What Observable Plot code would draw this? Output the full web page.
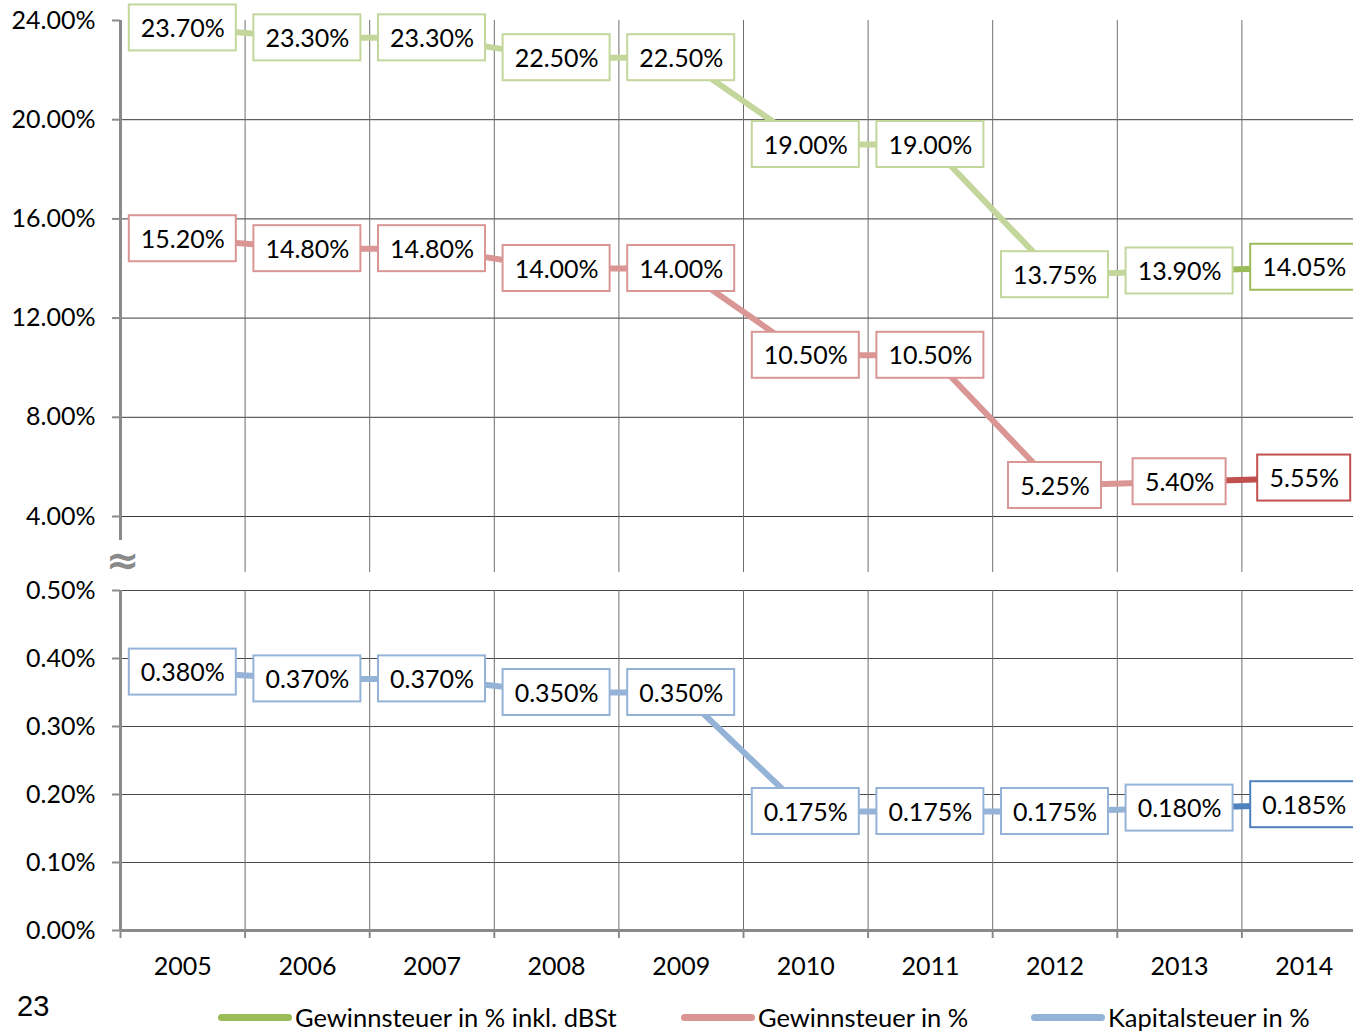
<!DOCTYPE html>
<html>
<head>
<meta charset="utf-8">
<script src="https://cdn.jsdelivr.net/npm/d3@7"></script>
<script src="https://cdn.jsdelivr.net/npm/@observablehq/plot@0.6"></script>
<style>
  html, body { margin: 0; padding: 0; background: #fff; overflow: hidden; }
  #wrap { position: relative; width: 1353px; height: 1032px; overflow: hidden; font-family: Lato, sans-serif; }
  #top, #bottom { position: absolute; left: 0; width: 1370px; }
  #top { top: 0; }
  #bottom { top: 580px; }
  #top svg, #bottom svg { max-width: none !important; }
  #approx { position: absolute; left: 106px; top: 540px; font-size: 40px; font-weight: bold; color: #8a8a8a; line-height: 1; font-family: "DejaVu Sans", sans-serif; }
  #page { position: absolute; left: 17px; top: 990px; font-size: 29px; font-family: "Liberation Sans", Arial, sans-serif; color: #000; }
  .leg { position: absolute; top: 1003px; height: 28px; line-height: 28px; display: flex; align-items: center; font-size: 25.5px; color: #000; white-space: nowrap; }
  .sw { width: 74px; height: 7px; border-radius: 4px; margin-right: 3px; }
</style>
</head>
<body>
<div id="wrap">
  <div id="top"></div>
  <div id="bottom"></div>
  <div id="approx">≈</div>
  <div id="page">23</div>
</div>
<script>
// ---- data ----
const years = [2005, 2006, 2007, 2008, 2009, 2010, 2011, 2012, 2013, 2014];
const gewinnInkl = [23.70, 23.30, 23.30, 22.50, 22.50, 19.00, 19.00, 13.75, 13.90, 14.05];
const gewinn = [15.20, 14.80, 14.80, 14.00, 14.00, 10.50, 10.50, 5.25, 5.40, 5.55];
const kapital = [0.380, 0.370, 0.370, 0.350, 0.350, 0.175, 0.175, 0.175, 0.180, 0.185];
const topTicks = [4, 8, 12, 16, 20, 24];
const bottomTicks = [0, 0.1, 0.2, 0.3, 0.4, 0.5];
const seriesNames = ["Gewinnsteuer in % inkl. dBSt", "Gewinnsteuer in %", "Kapitalsteuer in %"];
const lightColors = ["#c3d69b", "#d99694", "#95b3d7"];
const darkColors = ["#9bbb59", "#c0504d", "#4f81bd"];
const legendColors = ["#9bbb59", "#d99694", "#95b3d7"];

// ---- layout constants ----
const W = 1370, ML = 120, MR = 4;
const bounds = d3.range(years[0] - 0.5, years[years.length - 1] + 1, 1);
const xDomain = [years[0] - 0.5, years[years.length - 1] + 0.5];
const pxPerYear = (W - ML - MR) / years.length;

function rows(vals, digits) {
  return years.map((y, i) => ({year: y, v: vals[i], label: vals[i].toFixed(digits) + "%", last: i === years.length - 1}));
}

function seriesMarks(vals, digits, k, unitsPerPx) {
  const r = rows(vals, digits);
  const boxH = 46 * unitsPerPx;
  return [
    Plot.line(r.slice(0, 9), {x: "year", y: "v", stroke: lightColors[k], strokeWidth: 6}),
    Plot.line(r.slice(8), {x: "year", y: "v", stroke: darkColors[k], strokeWidth: 6}),
    Plot.rect(r, {
      x1: d => d.year - (14 * d.label.length + 23) / 2 / pxPerYear,
      x2: d => d.year + (14 * d.label.length + 23) / 2 / pxPerYear,
      y1: d => d.v - boxH / 2,
      y2: d => d.v + boxH / 2,
      fill: "white",
      stroke: d => d.last ? darkColors[k] : lightColors[k],
      strokeWidth: 2
    }),
    Plot.text(r, {x: "year", y: "v", text: "label", fill: "black", fontSize: 25, dy: 1})
  ];
}

const style = {fontFamily: "Lato, sans-serif", fontSize: "24px", color: "black", background: "transparent", overflow: "visible", maxWidth: "none"};

// ---- top panel ----
const topH = 580, topMT = 20, topMB = 64;
const topUnitsPerPx = (24 - 4) / (topH - topMT - topMB);
const topPlot = Plot.plot({
  width: W, height: topH,
  marginLeft: ML, marginRight: MR, marginTop: topMT, marginBottom: topMB,
  style,
  x: {domain: xDomain, axis: null, label: null},
  y: {domain: [4, 24], label: null},
  marks: [
    Plot.ruleY([4, 8, 12, 16, 20], {stroke: "#3a3a3a", strokeWidth: 1}),
    Plot.ruleX(bounds.slice(1, -1), {stroke: "#6e6e6e", strokeWidth: 1, insetBottom: -56}),
    Plot.ruleX([xDomain[0]], {stroke: "#8a8a8a", strokeWidth: 3, insetBottom: -24}),
    Plot.axisY({ticks: topTicks, tickSize: 8, tickFormat: () => "", label: null, stroke: "#8a8a8a", strokeWidth: 2}),
    Plot.axisY({ticks: topTicks, tickSize: 0, tickPadding: 25, label: null, tickFormat: d => d.toFixed(2) + "%", fontSize: 25, fill: "black"}),
    ...seriesMarks(gewinnInkl, 2, 0, topUnitsPerPx),
    ...seriesMarks(gewinn, 2, 1, topUnitsPerPx)
  ]
});
document.getElementById("top").appendChild(topPlot);

// ---- bottom panel ----
const botH = 400, botMT = 10, botMB = 50;
const botUnitsPerPx = 0.5 / (botH - botMT - botMB);
const bottomPlot = Plot.plot({
  width: W, height: botH,
  marginLeft: ML, marginRight: MR, marginTop: botMT, marginBottom: botMB,
  style,
  x: {domain: xDomain, label: null},
  y: {domain: [0, 0.5], label: null},
  marks: [
    Plot.ruleY([0.1, 0.2, 0.3, 0.4, 0.5], {stroke: "#4a4a4a", strokeWidth: 1}),
    Plot.ruleX(bounds.slice(1, -1), {stroke: "#6e6e6e", strokeWidth: 1}),
    Plot.ruleX([xDomain[0]], {stroke: "#8a8a8a", strokeWidth: 3}),
    Plot.ruleY([0], {stroke: "#8a8a8a", strokeWidth: 3}),
    Plot.axisY({ticks: bottomTicks, tickSize: 8, tickFormat: () => "", label: null, stroke: "#8a8a8a", strokeWidth: 2}),
    Plot.axisY({ticks: bottomTicks, tickSize: 0, tickPadding: 25, label: null, tickFormat: d => d.toFixed(2) + "%", fontSize: 25, fill: "black"}),
    Plot.axisX({ticks: bounds, tickSize: 8, tickFormat: () => "", label: null, stroke: "#8a8a8a", strokeWidth: 2}),
    Plot.axisX({ticks: years, tickSize: 0, tickPadding: 27, label: null, tickFormat: d => String(d), fontSize: 25, fill: "black"}),
    ...seriesMarks(kapital, 3, 2, botUnitsPerPx)
  ]
});
document.getElementById("bottom").appendChild(bottomPlot);

// ---- legend ----
const legX = [218, 681, 1031];
const wrap = document.getElementById("wrap");
seriesNames.forEach((name, i) => {
  const item = document.createElement("div");
  item.className = "leg";
  item.style.left = legX[i] + "px";
  const sw = document.createElement("div");
  sw.className = "sw";
  sw.style.background = legendColors[i];
  const t = document.createElement("span");
  t.textContent = name;
  item.appendChild(sw);
  item.appendChild(t);
  wrap.appendChild(item);
});
</script>
</body>
</html>
